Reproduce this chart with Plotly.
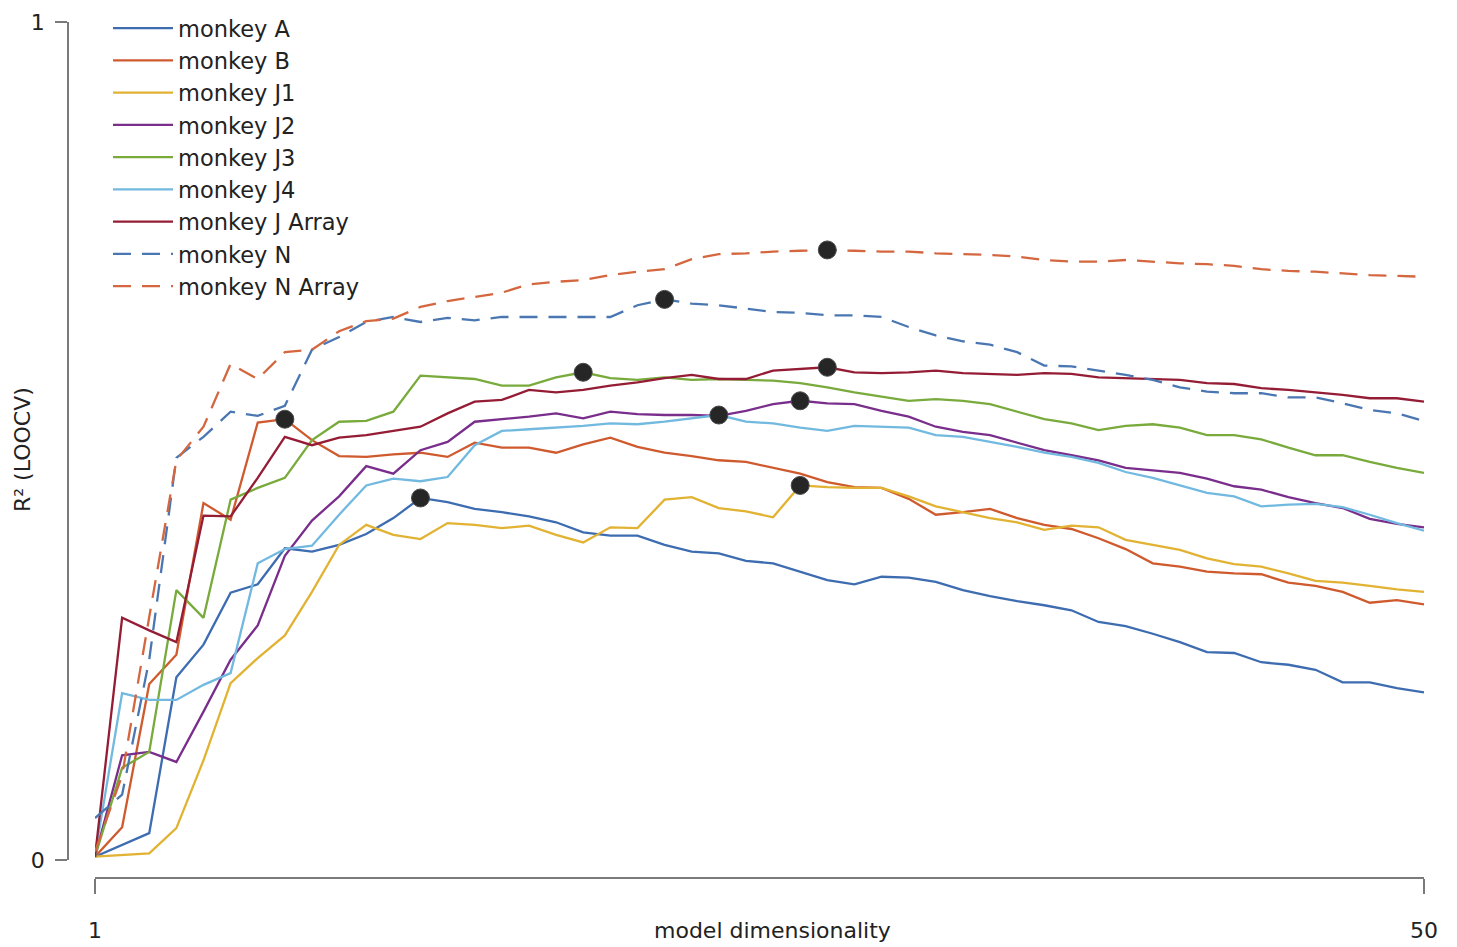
import numpy as np
import plotly.graph_objects as go

# model dimensionality (x) and cross-validated R^2 for each dataset
dims = list(range(1, 51))

monkey_a = [0.004, 0.018, 0.032, 0.218, 0.257, 0.319, 0.329, 0.372, 0.368, 0.376,
            0.389, 0.408, 0.432, 0.427, 0.419, 0.415, 0.410, 0.403, 0.391, 0.387,
            0.387, 0.376, 0.368, 0.366, 0.357, 0.354, 0.344, 0.334, 0.329, 0.338,
            0.337, 0.332, 0.322, 0.315, 0.309, 0.304, 0.298, 0.284, 0.279, 0.270,
            0.260, 0.248, 0.247, 0.236, 0.233, 0.227, 0.212, 0.212, 0.205, 0.200]

monkey_b = [0.004, 0.039, 0.210, 0.245, 0.426, 0.406, 0.522, 0.526, 0.501, 0.482,
            0.481, 0.484, 0.486, 0.481, 0.498, 0.492, 0.492, 0.486, 0.496, 0.504,
            0.493, 0.486, 0.482, 0.477, 0.475, 0.468, 0.461, 0.451, 0.445, 0.444,
            0.431, 0.412, 0.415, 0.419, 0.408, 0.400, 0.395, 0.384, 0.371, 0.354,
            0.350, 0.344, 0.342, 0.341, 0.331, 0.327, 0.320, 0.307, 0.310, 0.305]

monkey_j1 = [0.004, 0.006, 0.008, 0.038, 0.119, 0.211, 0.241, 0.268, 0.320, 0.376,
             0.400, 0.388, 0.383, 0.402, 0.400, 0.396, 0.399, 0.388, 0.379, 0.397,
             0.396, 0.430, 0.433, 0.420, 0.416, 0.409, 0.447, 0.445, 0.444, 0.444,
             0.434, 0.422, 0.415, 0.408, 0.403, 0.394, 0.399, 0.397, 0.382, 0.376,
             0.370, 0.360, 0.353, 0.350, 0.342, 0.333, 0.331, 0.327, 0.323, 0.320]

monkey_j2 = [0.004, 0.125, 0.129, 0.117, 0.177, 0.239, 0.280, 0.363, 0.405, 0.434,
             0.470, 0.461, 0.489, 0.499, 0.523, 0.526, 0.529, 0.533, 0.527, 0.535,
             0.532, 0.531, 0.531, 0.530, 0.536, 0.544, 0.548, 0.545, 0.544, 0.536,
             0.529, 0.517, 0.511, 0.507, 0.498, 0.489, 0.483, 0.477, 0.468, 0.465,
             0.462, 0.455, 0.446, 0.442, 0.433, 0.426, 0.420, 0.407, 0.401, 0.397]

monkey_j3 = [0.004, 0.110, 0.129, 0.322, 0.289, 0.430, 0.444, 0.456, 0.501, 0.523,
             0.524, 0.535, 0.578, 0.576, 0.574, 0.566, 0.566, 0.576, 0.582, 0.575,
             0.573, 0.576, 0.573, 0.574, 0.573, 0.572, 0.569, 0.564, 0.558, 0.553,
             0.548, 0.550, 0.548, 0.544, 0.535, 0.526, 0.521, 0.513, 0.518, 0.520,
             0.516, 0.507, 0.507, 0.502, 0.492, 0.483, 0.483, 0.475, 0.468, 0.462]

monkey_j4 = [0.006, 0.199, 0.191, 0.191, 0.209, 0.223, 0.354, 0.371, 0.375, 0.412,
             0.447, 0.455, 0.452, 0.457, 0.495, 0.512, 0.514, 0.516, 0.518, 0.521,
             0.520, 0.523, 0.527, 0.531, 0.523, 0.521, 0.516, 0.512, 0.518, 0.517,
             0.516, 0.507, 0.505, 0.499, 0.493, 0.486, 0.481, 0.474, 0.463, 0.456,
             0.447, 0.438, 0.434, 0.422, 0.424, 0.425, 0.421, 0.412, 0.402, 0.393]

monkey_j_array = [0.004, 0.289, 0.274, 0.260, 0.411, 0.410, 0.456, 0.505, 0.495, 0.504,
                  0.507, 0.512, 0.517, 0.533, 0.547, 0.549, 0.561, 0.558, 0.561, 0.566,
                  0.570, 0.575, 0.579, 0.574, 0.574, 0.584, 0.586, 0.588, 0.582, 0.581,
                  0.582, 0.584, 0.581, 0.580, 0.579, 0.581, 0.580, 0.576, 0.575, 0.574,
                  0.573, 0.569, 0.568, 0.563, 0.561, 0.558, 0.555, 0.551, 0.551, 0.547]

monkey_n = [0.050, 0.078, 0.239, 0.480, 0.505, 0.535, 0.530, 0.542, 0.609, 0.624,
            0.642, 0.648, 0.642, 0.647, 0.644, 0.648, 0.648, 0.648, 0.648, 0.648,
            0.662, 0.669, 0.664, 0.662, 0.658, 0.654, 0.653, 0.650, 0.650, 0.648,
            0.636, 0.626, 0.619, 0.615, 0.606, 0.590, 0.589, 0.584, 0.579, 0.573,
            0.564, 0.559, 0.557, 0.557, 0.552, 0.552, 0.545, 0.537, 0.533, 0.524]

monkey_n_array = [0.010, 0.101, 0.290, 0.477, 0.517, 0.592, 0.574, 0.606, 0.609, 0.631,
                  0.643, 0.646, 0.660, 0.667, 0.672, 0.677, 0.687, 0.690, 0.692, 0.698,
                  0.702, 0.705, 0.717, 0.723, 0.724, 0.726, 0.727, 0.728, 0.727, 0.726,
                  0.726, 0.724, 0.723, 0.722, 0.720, 0.716, 0.714, 0.714, 0.716, 0.714,
                  0.712, 0.711, 0.709, 0.705, 0.703, 0.702, 0.700, 0.698, 0.697, 0.696]

series_names = ["monkey A", "monkey B", "monkey J1", "monkey J2", "monkey J3",
                "monkey J4", "monkey J Array", "monkey N", "monkey N Array"]
series_values = [monkey_a, monkey_b, monkey_j1, monkey_j2, monkey_j3,
                 monkey_j4, monkey_j_array, monkey_n, monkey_n_array]
series_colors = ["#3d6cb0", "#cf5a2e", "#e2b233", "#7a2e8c", "#78aa3c",
                 "#72b9e0", "#951c35", "#4a77b2", "#d4673f"]
series_dash = ["solid"] * 7 + ["18px,11px", "18px,11px"]

FONT = "DejaVu Sans, Liberation Sans, Arial, sans-serif"
AXIS_GREY = "#7a7a7a"
TEXT = "#222222"

fig = go.Figure()

for i, (name, vals, col, dash) in enumerate(zip(series_names, series_values,
                                                 series_colors, series_dash)):
    fig.add_trace(go.Scatter(
        x=dims, y=vals, mode="lines", name=name,
        legendgroup=f"g{i}",
        line=dict(color=col, width=2.3, dash=dash),
    ))

# black dot at the best dimensionality of every curve
peak_x, peak_y = [], []
for vals in series_values:
    k = int(np.argmax(vals))
    peak_x.append(dims[k])
    peak_y.append(vals[k])

fig.add_trace(go.Scatter(
    x=peak_x, y=peak_y, mode="markers", showlegend=False,
    marker=dict(size=18, color="#262626", line=dict(color="#4a4a4a", width=1)),
    cliponaxis=False,
))

W, H = 1457, 947
left, right, top, bottom = 68, 33, 22, 69
pw, ph = W - left - right, H - top - bottom

fig.update_layout(
    width=W, height=H,
    margin=dict(l=left, r=right, t=top, b=bottom, pad=0, autoexpand=False),
    paper_bgcolor="white", plot_bgcolor="white",
    font=dict(family=FONT, size=22, color=TEXT),
    showlegend=True,
    legend=dict(
        x=(108 - left) / pw, y=(top + ph - 7) / ph,
        xanchor="left", yanchor="top",
        bgcolor="rgba(0,0,0,0)",
        font=dict(family=FONT, size=22.5, color=TEXT),
        itemwidth=60, traceorder="grouped", tracegroupgap=0,
    ),
    xaxis=dict(
        domain=[27 / pw, 1], range=[1, 50], anchor="free", position=0,
        automargin=False,
        showline=True, linecolor=AXIS_GREY, linewidth=2,
        ticks="outside", ticklen=15, tickcolor=AXIS_GREY, tickwidth=1.5,
        tickvals=[1, 50], ticktext=["1", "50"], ticklabelstandoff=18,
        showgrid=False, zeroline=False,
        tickfont=dict(family=FONT, size=22, color=TEXT),
    ),
    yaxis=dict(
        domain=[18 / ph, 1], range=[0, 1], anchor="free", position=0,
        automargin=False,
        showline=True, linecolor=AXIS_GREY, linewidth=1.5,
        ticks="outside", ticklen=12, tickcolor=AXIS_GREY, tickwidth=1.5,
        tickvals=[0, 1], ticktext=["0", "1"], ticklabelstandoff=6,
        showgrid=False, zeroline=False,
        tickfont=dict(family=FONT, size=22, color=TEXT),
    ),
    annotations=[
        dict(text="model dimensionality", xref="paper", yref="paper",
             x=(772 - left) / pw, y=(top + ph - 930) / ph,
             xanchor="center", yanchor="middle", showarrow=False,
             font=dict(family=FONT, size=22, color=TEXT)),
        dict(text="R² (LOOCV)", xref="paper", yref="paper",
             x=(22 - left) / pw, y=(top + ph - 450) / ph, textangle=-90,
             xanchor="center", yanchor="middle", showarrow=False,
             font=dict(family=FONT, size=22, color=TEXT)),
    ],
)

fig.write_html("out.html")
